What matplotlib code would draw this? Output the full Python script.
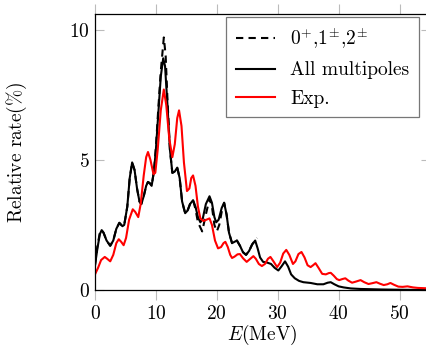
import matplotlib
matplotlib.use("Agg")
import matplotlib.pyplot as plt

plt.rcParams['font.family'] = 'serif'
plt.rcParams['font.serif'] = ['cmr10']
plt.rcParams['mathtext.fontset'] = 'cm'
plt.rcParams['axes.formatter.use_mathtext'] = True

# all multipoles (black solid)
e_all = [0, 0.4, 0.8, 1.1, 1.4, 1.9, 2.5, 3.0, 3.5, 4.0, 4.5, 4.8, 5.3, 5.7, 6.1,
         6.5, 6.9, 7.3, 7.6, 8.0, 8.4, 8.7, 9.0, 9.3, 9.7, 10.0, 10.4, 10.8, 11.2,
         11.5, 11.9, 12.3, 12.7, 13.1, 13.5, 13.9, 14.3, 14.8, 15.2, 15.6, 16.1,
         16.5, 16.9, 17.3, 17.7, 18.2, 18.8, 19.2, 19.6, 19.9, 20.3, 20.8, 21.2,
         21.6, 22.0, 22.5, 22.9, 23.3, 23.8, 24.3, 24.8, 25.3, 25.8, 26.3, 26.7,
         27.1, 27.6, 28.3, 28.9, 29.5, 30.1, 30.6, 31.2, 31.7, 32.2, 32.8, 33.5,
         34.2, 35.4, 36.5, 37.5, 38.2, 38.7, 39.3, 40.0, 40.8, 42.0, 43.6, 47.0,
         50.0, 55.0]
v_all = [0.95, 1.6, 2.15, 2.3, 2.2, 1.9, 1.7, 1.9, 2.35, 2.58, 2.45, 2.5, 3.2, 4.3, 4.9,
         4.6, 3.9, 3.4, 3.3, 3.6, 4.0, 4.15, 4.1, 4.0, 4.6, 5.4, 6.8, 8.2, 8.9,
         8.6, 7.1, 5.4, 4.5, 4.55, 4.7, 4.3, 3.4, 2.95, 3.05, 3.3, 3.45,
         3.2, 2.8, 2.6, 2.75, 3.3, 3.6, 3.35, 2.8, 2.6, 2.7, 3.15, 3.35,
         2.9, 2.2, 1.8, 1.85, 1.9, 1.7, 1.45, 1.35, 1.5, 1.75, 1.9, 1.6,
         1.25, 1.08, 1.05, 1.0, 0.85, 0.75, 0.9, 1.1, 0.9, 0.6, 0.45, 0.35,
         0.3, 0.27, 0.22, 0.22, 0.28, 0.3, 0.22, 0.14, 0.1, 0.06, 0.04, 0.02,
         0.01, 0.0]

# 0+,1+-,2+- (black dashed)
e_low = [0, 0.4, 0.8, 1.1, 1.4, 1.9, 2.5, 3.0, 3.5, 4.0, 4.5, 4.8, 5.3, 5.7, 6.1,
         6.5, 6.9, 7.3, 7.6, 8.0, 8.4, 8.7, 9.0, 9.3, 9.7, 10.0, 10.4, 10.8, 11.3,
         11.6, 11.9, 12.3, 12.7, 13.1, 13.5, 13.9, 14.3, 14.8, 15.2, 15.6, 16.1,
         16.5, 16.9, 17.6, 18.2, 18.8, 19.2, 19.6, 20.0, 20.4, 20.8, 21.2,
         21.6, 22.0, 22.5, 22.9, 23.3, 23.8, 24.3, 24.8, 25.3, 25.8, 26.3, 26.6]
v_low = [0.95, 1.7, 2.2, 2.3, 2.2, 1.9, 1.7, 1.9, 2.35, 2.58, 2.45, 2.5, 3.2, 4.3, 4.9,
         4.6, 3.9, 3.4, 3.3, 3.6, 4.0, 4.15, 4.1, 4.0, 4.6, 5.5, 7.0, 8.4, 9.7,
         9.0, 7.3, 5.4, 4.5, 4.55, 4.7, 4.3, 3.4, 2.95, 3.05, 3.3, 3.45,
         3.1, 2.6, 2.25, 2.9, 3.5, 3.2, 2.5, 2.25, 2.5, 3.0, 3.35,
         2.9, 2.2, 1.8, 1.85, 1.9, 1.7, 1.45, 1.35, 1.5, 1.75, 1.9, 2.0]

# experiment (red)
e_exp = [0, 0.5, 1.0, 1.6, 2.0, 2.5, 3.0, 3.5, 3.9, 4.3, 4.7, 5.1, 5.6, 6.2, 6.6,
         7.1, 7.5, 8.0, 8.4, 8.7, 9.1, 9.6, 9.9, 10.3, 10.8, 11.3, 11.7, 12.2,
         12.7, 13.1, 13.5, 13.8, 14.2, 14.6, 15.1, 15.5, 15.8, 16.1, 16.5, 16.9,
         17.3, 17.8, 18.3, 18.8, 19.2, 19.7, 20.2, 20.7, 21.1, 21.4, 21.8, 22.2,
         22.5, 22.9, 23.4, 23.8, 24.3, 24.9, 25.4, 26.0, 26.4, 26.9, 27.4, 27.9,
         28.4, 28.8, 29.3, 29.9, 30.4, 30.9, 31.4, 31.9, 32.5, 32.9, 33.4, 33.9,
         34.4, 34.9, 35.4, 35.8, 36.2, 36.7, 37.3, 37.9, 38.4, 38.7, 39.2, 39.7,
         40.1, 40.6, 41.1, 41.6, 42.2, 42.8, 43.6, 44.2, 44.9, 45.5, 46.2, 46.8,
         47.4, 48.0, 48.5, 49.1, 49.8, 50.5, 51.3, 52.2, 53.0, 54.0, 55.0]
v_exp = [0.6, 0.85, 1.15, 1.27, 1.2, 1.1, 1.35, 1.8, 1.95, 1.85, 1.72, 2.0, 2.7, 3.1, 3.0,
         2.8, 3.3, 4.4, 5.1, 5.3, 5.0, 4.45, 4.5, 5.4, 6.9, 7.7, 7.1, 5.8,
         5.1, 5.6, 6.6, 6.9, 6.3, 4.9, 3.8, 3.9, 4.3, 4.4, 4.0, 3.2,
         2.75, 2.65, 2.7, 2.75, 2.5, 1.9, 1.6, 1.65, 1.8, 1.85, 1.65, 1.35,
         1.23, 1.28, 1.37, 1.38, 1.22, 1.08, 1.18, 1.3, 1.2, 1.0, 0.92, 1.0,
         1.2, 1.27, 1.1, 0.88, 1.05, 1.4, 1.54, 1.35, 1.0, 1.1, 1.38, 1.46,
         1.25, 0.95, 0.88, 0.95, 1.03, 0.85, 0.62, 0.6, 0.65, 0.66, 0.55, 0.42,
         0.38, 0.42, 0.45, 0.36, 0.28, 0.32, 0.38, 0.3, 0.23, 0.26, 0.3, 0.24,
         0.19, 0.22, 0.27, 0.2, 0.13, 0.12, 0.14, 0.1, 0.08, 0.07, 0.06]

x_ticks = [0, 10, 20, 30, 40, 50]
y_ticks = [0, 5, 10]

fig = plt.figure(figsize=(4.27, 3.51), dpi=100)
ax = fig.add_axes([95 / 427, 61 / 351, 335 / 427, 276 / 351])

ax.plot(e_low, v_low, color='black', lw=1.5, ls=(0, (3.5, 2.5)), label=r'$0^{+}$,$1^{\pm}$,$2^{\pm}$')
ax.plot(e_all, v_all, color='black', lw=1.5, label='All multipoles')
ax.plot(e_exp, v_exp, color='red', lw=1.5, label='Exp.')

ax.set_xlim(0, 55)
ax.set_ylim(0, 10.6)
ax.set_xticks(x_ticks)
ax.set_yticks(y_ticks)
ax.tick_params(axis='x', which='both', direction='out', top=True, bottom=True,
               length=7, color='#bbbbbb', labelsize=14)
ax.tick_params(axis='y', which='both', direction='in', left=True, right=True,
               length=6.5, color='#bbbbbb', labelsize=14)
for s in ax.spines.values():
    s.set_linewidth(0.9)

ax.set_xlabel(r'$E$(MeV)', fontsize=14, labelpad=0)
ax.set_ylabel(r'Relative rate$(\%)$', fontsize=14, labelpad=29)

leg = ax.legend(loc='upper left', bbox_to_anchor=(226 / 427, 1 - 17 / 351),
                bbox_transform=fig.transFigure, borderaxespad=0, fontsize=14,
                fancybox=False, framealpha=1, edgecolor='#777777',
                handlelength=2.0, labelspacing=0.53, borderpad=0.5)
leg.get_frame().set_linewidth(0.9)

fig.savefig('out.png', dpi=100)
